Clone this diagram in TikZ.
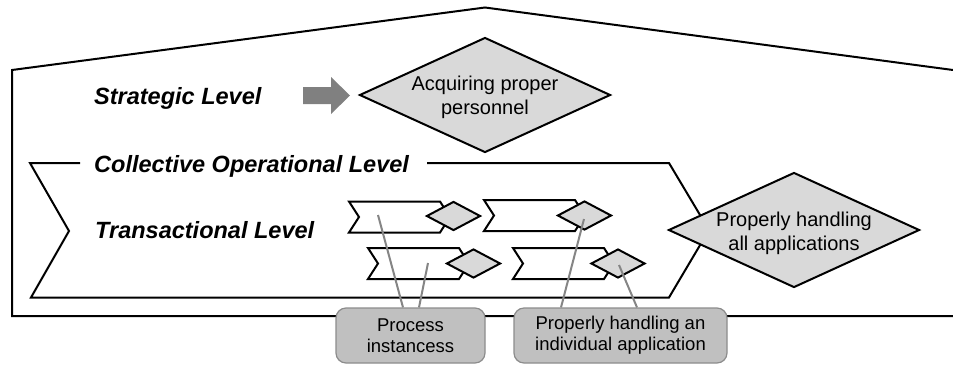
\documentclass[tikz,border=0pt]{standalone}
\usepackage{fontspec}
\setmainfont{Liberation Sans}
\usetikzlibrary{shapes.geometric}
\definecolor{goalgray}{HTML}{D9D9D9}
\definecolor{notefill}{HTML}{C0C0C0}
\definecolor{notedraw}{HTML}{8C8C8C}
\definecolor{linkgray}{HTML}{858585}
\definecolor{arrowgray}{HTML}{808080}
\begin{document}
\begin{tikzpicture}[x=1pt,y=-1pt,
  frame/.style={draw=black,line width=2pt,line join=miter},
  level/.style={font=\fontsize{23.5}{28}\selectfont\bfseries\itshape,anchor=base west,inner sep=0pt},
  goal/.style={diamond,draw=black,line width=2pt,fill=goalgray,inner sep=0pt,
    minimum width=251pt,minimum height=115pt},
  goaltext/.style={font=\fontsize{20}{24}\selectfont,align=center,inner sep=0pt},
  subgoal/.style={diamond,draw=black,line width=2pt,fill=goalgray,inner sep=0pt,
    minimum width=54pt,minimum height=29pt},
  note/.style={rectangle,rounded corners=10pt,draw=notedraw,line width=1.2pt,fill=notefill,
    minimum height=55pt,inner sep=0pt,align=center,font=\fontsize{18.5}{21}\selectfont},
  link/.style={draw=linkgray,line width=2pt},
  procstep/.pic={\draw[frame,fill=white] (0,0) -- (91,0) -- (101,15.5) -- (91,31) -- (0,31) -- (10,15.5) -- cycle;}
]
\useasboundingbox (0,0) rectangle (953,365);

% organisation frame (open to the right)
\draw[frame] (953,316) -- (12,316) -- (12,70) -- (485,7.5) -- (953,70);

% collective operational level chevron, broken for its title
\draw[frame] (80,163) -- (30,163) -- (69,231) -- (31,297.5) -- (669,297.5)
  -- (709,230) -- (669,163) -- (427,163);

% level titles
\node[level] (strat) at (94,104) {Strategic Level};
\node[level] (coll) at (94,172) {Collective Operational Level};
\node[level] (trans) at (95,238) {Transactional Level};

% strategic arrow
\fill[arrowgray] (303,87) -- (331,87) -- (331,77) -- (350,95.5) -- (331,114) -- (331,104) -- (303,104) -- cycle;

% strategic goal
\node[goal] (acq) at (485,95) {};
\node[goaltext] (acqtext) at ([yshift=-2pt]acq.center) {Acquiring proper\\personnel};

% transactional process instances
\pic at (349,201.5) {procstep};
\pic at (484,200) {procstep};
\pic at (368,248) {procstep};
\pic at (513,248) {procstep};
\node[subgoal] (d1) at (453.5,216) {};
\node[subgoal] (d2) at (584.5,215.5) {};
\node[subgoal] (d3) at (473.5,263.5) {};
\node[subgoal] (d4) at (618,263.5) {};

% collective goal
\node[goal] (all) at (794,230) {};
\node[goaltext] (alltext) at ([yshift=-3pt]all.center) {Properly handling\\all applications};

% anchor points inside the instances
\coordinate (p1) at (378,215);
\coordinate (p2) at (428,263);
\coordinate (p3) at (584,219);
\coordinate (p4) at (619,265);

% callouts
\node[note,minimum width=149pt] (inst) at (410.5,335.5) {Process\\instancess};
\node[note,minimum width=213pt] (indiv) at (620.5,335.5) {Properly handling an\\individual application};

\draw[link] (p1) -- ([xshift=-7.5pt]inst.north);
\draw[link] (p2) -- ([xshift=8.5pt]inst.north);
\draw[link] (p3) -- ([xshift=-59.5pt]indiv.north);
\draw[link] (p4) -- ([xshift=16.5pt]indiv.north);
\end{tikzpicture}
\end{document}
